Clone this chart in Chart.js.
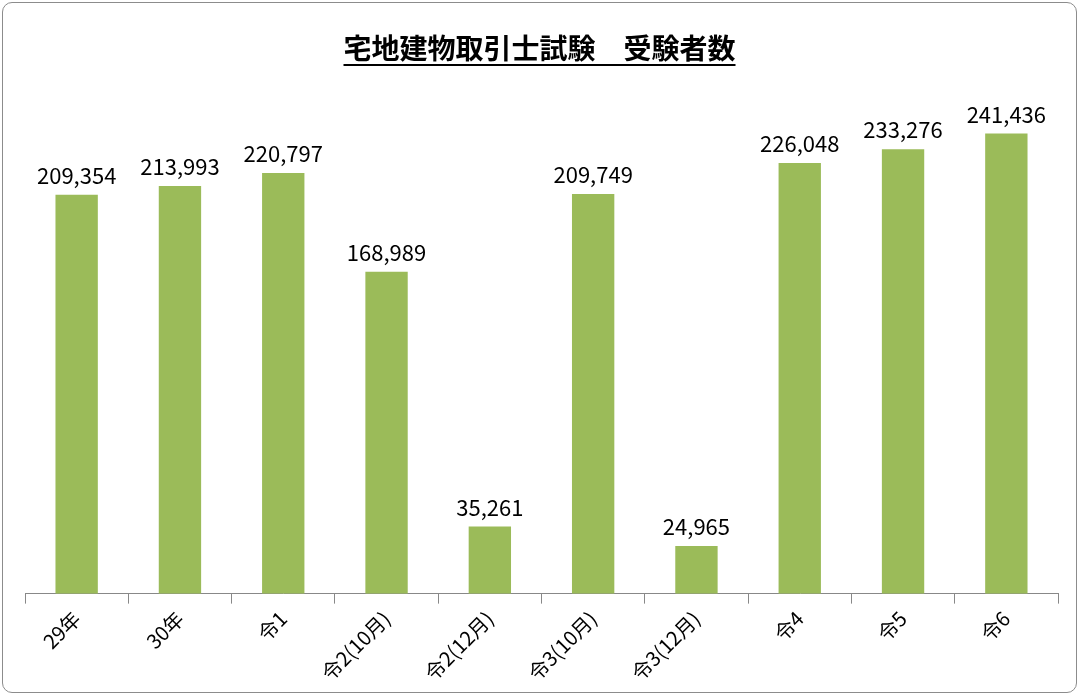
<!DOCTYPE html>
<html>
<head>
<meta charset="UTF-8">
<script src="https://cdn.jsdelivr.net/npm/chart.js"></script>
<style>
html,body{margin:0;padding:0;background:#fff}
.box{position:absolute;left:2px;top:2px;width:1073px;height:689px;border:1px solid #8c8c8c;border-radius:10px;overflow:hidden}
</style>
</head>
<body>
<div class="box"><canvas id="c" width="1073" height="689"></canvas></div>
<script>
var categories = ["29年","30年","令1","令2(10月)","令2(12月)","令3(10月)","令3(12月)","令4","令5","令6"];
var examinees = [209354,213993,220797,168989,35261,209749,24965,226048,233276,241436];
var chartTitle = "宅地建物取引士試験　受験者数";
var font = "'Noto Sans CJK JP', 'Noto Sans', sans-serif";

var labelPlugin = {
	id: 'labels',
	afterDatasetsDraw: function(chart){
		var ctx = chart.ctx;
		ctx.save();
		ctx.fillStyle = '#000';
		ctx.font = '22px ' + font;
		ctx.textAlign = 'center';
		ctx.textBaseline = 'bottom';
		chart.getDatasetMeta(0).data.forEach(function(bar, i){
			ctx.fillText(examinees[i].toLocaleString('en-US'), bar.x, bar.y - 8);
		});
		// title with underline
		ctx.font = 'bold 28px ' + font;
		ctx.textBaseline = 'alphabetic';
		var cx = chart.width / 2;
		ctx.fillText(chartTitle, cx, 56);
		var w = ctx.measureText(chartTitle).width;
		ctx.fillRect(cx - w/2, 61, w, 2);
		ctx.restore();
	}
};

new Chart(document.getElementById('c'), {
	type: 'bar',
	data: {
		labels: categories,
		datasets: [{
			data: examinees,
			backgroundColor: '#9bbb59',
			barPercentage: 0.41,
			categoryPercentage: 1.0
		}]
	},
	options: {
		responsive: false,
		animation: false,
		layout: {padding: {top: 76, left: 22, right: 18, bottom: 4}},
		plugins: {legend: {display: false}, tooltip: {enabled: false}},
		scales: {
			x: {
				offset: true,
				grid: {offset: true, drawOnChartArea: false, color: '#888', tickLength: 10},
				border: {color: '#888'},
				ticks: {color: '#000', font: {size: 20, family: font}, maxRotation: 45, minRotation: 45}
			},
			y: {
				display: false,
				min: 0,
				max: 241436 * 462 / 413
			}
		}
	},
	plugins: [labelPlugin]
});
</script>
</body>
</html>
